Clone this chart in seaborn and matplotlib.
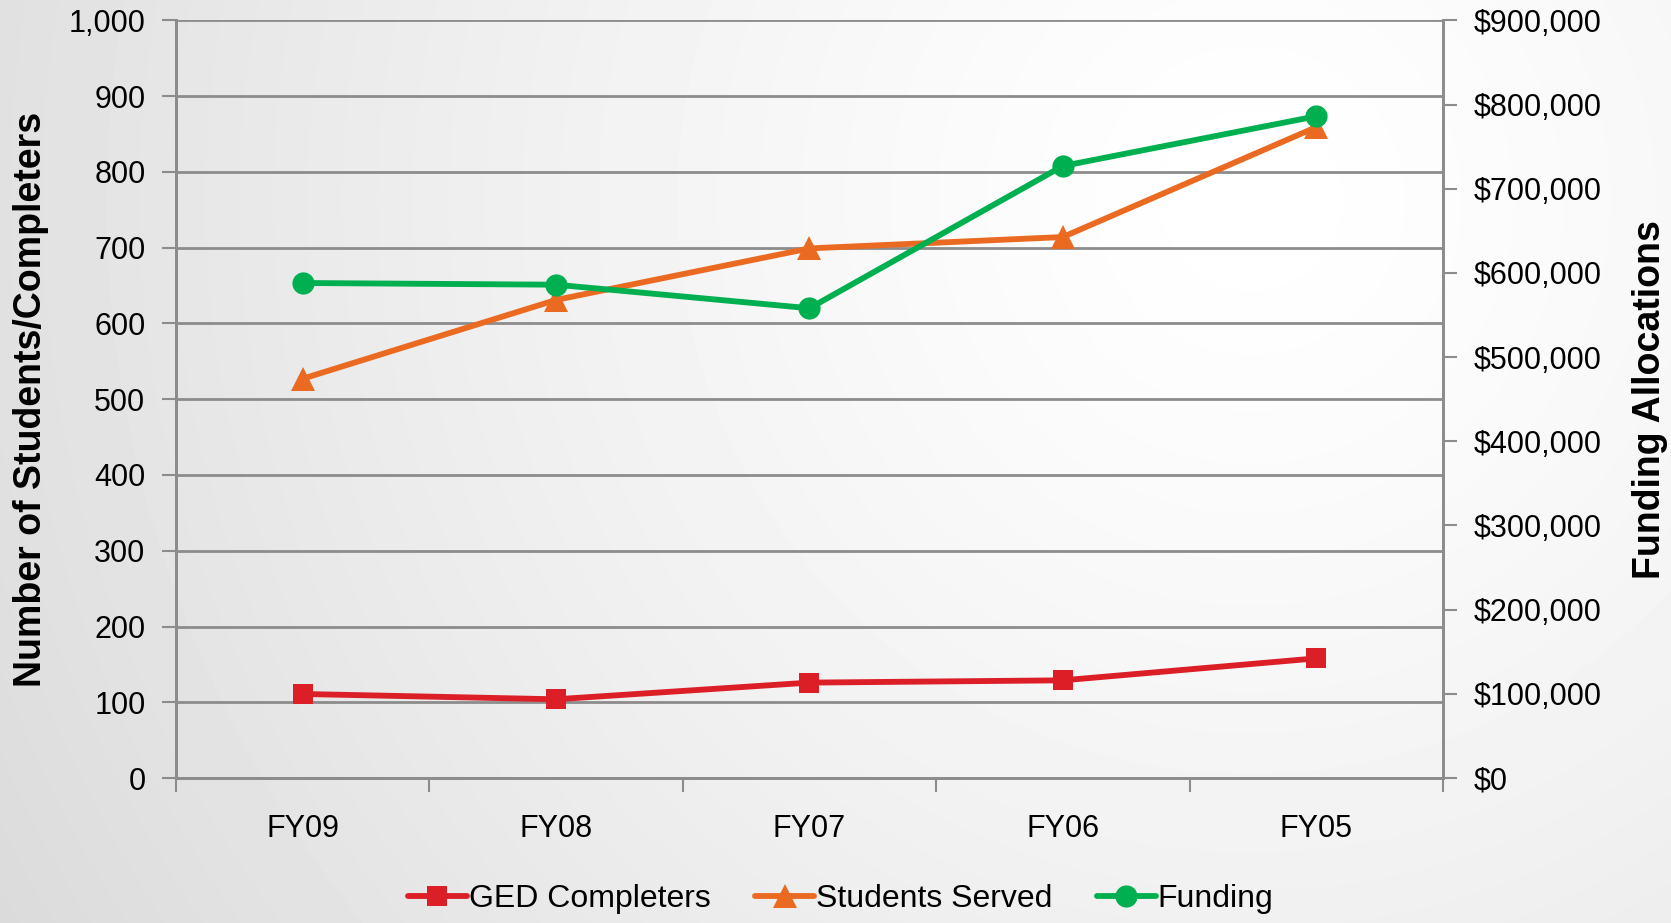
import numpy as np
import pandas as pd
import seaborn as sns
import matplotlib.pyplot as plt
from matplotlib.ticker import FixedLocator, FuncFormatter

# data
years = ["FY09", "FY08", "FY07", "FY06", "FY05"]
ged_completers = [111, 104, 126, 129, 158]
students_served = [527, 631, 699, 714, 859]
funding = [588000, 586000, 558000, 727000, 786000]

sns.set_style("ticks")
plt.rcParams["font.family"] = ["Liberation Sans", "DejaVu Sans"]
plt.rcParams["text.color"] = "black"
plt.rcParams["axes.labelcolor"] = "black"
plt.rcParams["xtick.labelcolor"] = "black"
plt.rcParams["ytick.labelcolor"] = "black"

df = pd.DataFrame({"year": years, "ged": ged_completers,
                   "students": students_served, "funding": funding})

red = "#DC1E27"
orange = "#EB6A21"
green = "#00B050"
grid_gray = "#8C8C8C"

fig = plt.figure(figsize=(16.71, 9.23), dpi=100)

# radial gradient background (light top-right, grey bottom-left)
bg = fig.add_axes([0, 0, 1, 1], zorder=-10)
yy, xx = np.mgrid[0:923, 0:1671]
dist = np.hypot(xx - 1250, yy - 200) / 1500.0
shade = np.clip(1.0 - 0.15 * dist ** 1.3, 0.84, 1.0)
bg.imshow(shade, cmap="gray", vmin=0, vmax=1, aspect="auto", interpolation="bilinear")
bg.axis("off")

ax = fig.add_axes([0.1053, 0.157, 0.7582, 0.821])
ax.set_facecolor("none")

sns.lineplot(data=df, x="year", y="ged", ax=ax, color=red, lw=4.2,
             marker="s", markersize=15, markeredgewidth=0, label="GED Completers",
             legend=False, sort=False)
sns.lineplot(data=df, x="year", y="students", ax=ax, color=orange, lw=4.2,
             marker="^", markersize=17, markeredgewidth=0, label="Students Served",
             legend=False, sort=False)

ax2 = ax.twinx()
ax2.set_facecolor("none")
sns.lineplot(data=df, x="year", y="funding", ax=ax2, color=green, lw=4.2,
             marker="o", markersize=16, markeredgewidth=0, label="Funding",
             legend=False, sort=False)

ax.set_xlim(-0.5, 4.5)
ax.set_ylim(0, 1000)
ax2.set_ylim(0, 900000)

ax.set_yticks(np.arange(0, 1001, 100))
ax.yaxis.set_major_formatter(FuncFormatter(lambda v, p: f"{int(v):,}"))
ax2.set_yticks(np.arange(0, 900001, 100000))
ax2.yaxis.set_major_formatter(FuncFormatter(lambda v, p: f"${int(v):,}"))

ax.yaxis.grid(True, color=grid_gray, lw=2)
ax.set_axisbelow(True)

ax.xaxis.set_minor_locator(FixedLocator(np.arange(-0.5, 5, 1.0)))
ax.tick_params(axis="x", which="major", length=0, pad=26, labelsize=22)
ax.tick_params(axis="x", which="minor", length=10, width=1.5, color=grid_gray)
ax.tick_params(axis="y", length=10, width=1.5, color=grid_gray, pad=12, labelsize=22)
ax2.tick_params(axis="y", length=10, width=1.5, color=grid_gray, pad=12, labelsize=22)

for a in (ax, ax2):
    a.spines["top"].set_visible(False)
    for s in ("left", "right", "bottom"):
        a.spines[s].set_color(grid_gray)
        a.spines[s].set_linewidth(2)

ax.set_xlabel("")
ax.set_ylabel("Number of Students/Completers", fontsize=27, fontweight="bold", labelpad=14)
ax2.set_ylabel("Funding Allocations", fontsize=27, fontweight="bold", labelpad=22,
               rotation=90)

h1, l1 = ax.get_legend_handles_labels()
h2, l2 = ax2.get_legend_handles_labels()
fig.legend(h1 + h2, l1 + l2, loc="center", bbox_to_anchor=(0.503, 0.026), ncol=3,
           frameon=False, fontsize=23, handlelength=1.85, handletextpad=0.05,
           columnspacing=1.4)

fig.savefig("out.png", dpi=100)
